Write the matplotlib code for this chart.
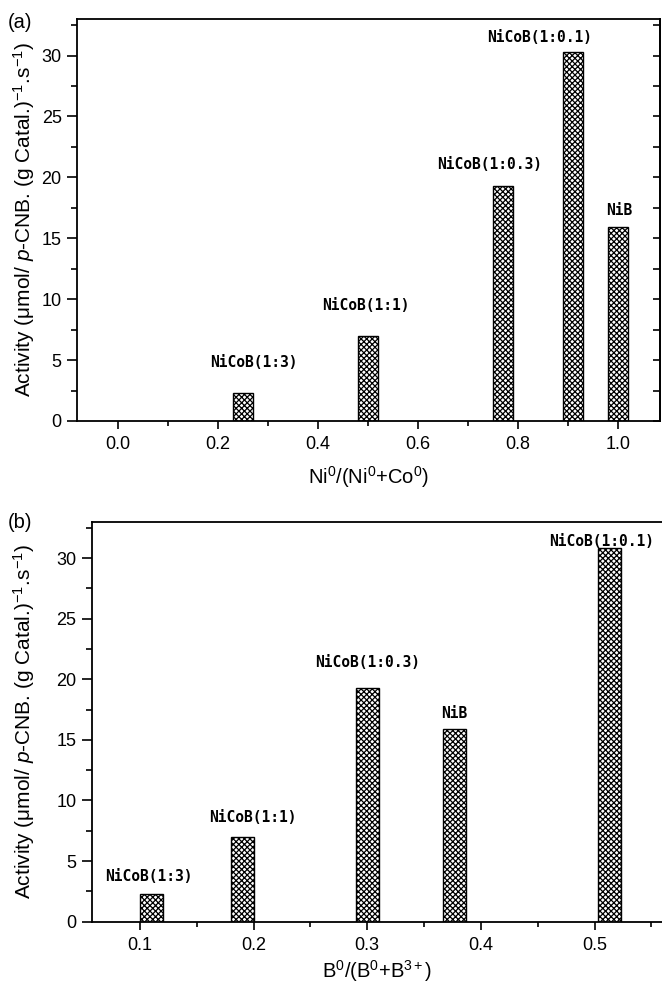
import matplotlib
matplotlib.use("Agg")
import matplotlib.pyplot as plt
from matplotlib.ticker import MultipleLocator, FormatStrFormatter

plt.rcParams['font.family'] = ['Liberation Sans', 'DejaVu Sans']
plt.rcParams['hatch.linewidth'] = 0.9
plt.rcParams['mathtext.fontset'] = 'custom'
plt.rcParams['mathtext.rm'] = 'Liberation Sans'
plt.rcParams['mathtext.it'] = 'Liberation Sans:italic'

# (a) activity vs. Ni0/(Ni0+Co0)
samples_a = ["NiCoB(1:3)", "NiCoB(1:1)", "NiCoB(1:0.3)", "NiCoB(1:0.1)", "NiB"]
ni_ratio = [0.25, 0.50, 0.77, 0.91, 1.00]
activity_a = [2.3, 7.0, 19.3, 30.3, 15.9]

# (b) activity vs. B0/(B0+B3+)
samples_b = ["NiCoB(1:3)", "NiCoB(1:1)", "NiCoB(1:0.3)", "NiB", "NiCoB(1:0.1)"]
b_ratio = [0.11, 0.19, 0.30, 0.377, 0.513]
activity_b = [2.3, 7.0, 19.3, 15.9, 30.8]

# label offsets above each bar (pixels)
offsets_a = [(11, 30), (-2, 30), (-13, 21), (-33, 14), (1, 17)]
offsets_b = [(-2, 17), (11, 19), (0, 25), (0, 15), (-8, 7)]

W, H = 662, 983
fig = plt.figure(figsize=(W / 100, H / 100), dpi=100)

label_font = dict(family=['DejaVu Sans Mono'], fontweight='bold', fontsize=10.5)
ylabel = r"Activity (μmol/ $\it{p}$-CNB. (g Catal.)$^{-1}$.s$^{-1}$)"


def style_axis(ax):
    for s in ax.spines.values():
        s.set_linewidth(1.3)
    ax.tick_params(axis='both', which='both', direction='out', width=1.2,
                   labelsize=13)
    ax.tick_params(axis='y', which='major', length=7, pad=4)
    ax.tick_params(axis='y', which='minor', length=4)
    ax.tick_params(axis='x', which='major', length=6, pad=5)
    ax.tick_params(axis='x', which='minor', length=3.5)
    ax.set_ylim(0, 33)
    ax.yaxis.set_major_locator(MultipleLocator(5))
    ax.yaxis.set_minor_locator(MultipleLocator(2.5))


def draw_bars(ax, names, xs, ys, width, offsets):
    ax.bar(xs, ys, width=width, color='white', edgecolor='black', linewidth=1.0,
           hatch='xxxxxx', zorder=2)
    for name, x, y, (dx, dy) in zip(names, xs, ys, offsets):
        ax.annotate(name, (x, y), xytext=(dx, dy), textcoords='offset pixels',
                    ha='center', va='center', **label_font)


# panel (a)
axa = fig.add_axes([77 / W, 1 - 421 / H, 583 / W, 402 / H])
style_axis(axa)
draw_bars(axa, samples_a, ni_ratio, activity_a, 0.04, offsets_a)
axa.set_xlim(-0.082, 1.084)
axa.xaxis.set_major_locator(MultipleLocator(0.2))
axa.xaxis.set_minor_locator(MultipleLocator(0.1))
axa.xaxis.set_major_formatter(FormatStrFormatter('%.1f'))
axa.set_xlabel(r"Ni$^0$/(Ni$^0$+Co$^0$)", fontsize=14.5, labelpad=8)
axa.set_ylabel(ylabel, fontsize=15)
axa.yaxis.set_label_coords(-40 / 583, 0.5)

# inward ticks along the right frame of panel (a)
right = axa.secondary_yaxis('right')
right.yaxis.set_major_locator(MultipleLocator(5))
right.yaxis.set_minor_locator(MultipleLocator(2.5))
right.tick_params(which='both', direction='in', length=5, width=1.2, labelright=False)
right.spines['right'].set_linewidth(1.3)
fig.text(8 / W, 1 - 22 / H, "(a)", fontsize=14.5, va='center', ha='left')

# panel (b)
axb = fig.add_axes([91.7 / W, 1 - 921.7 / H, (W - 91.7) / W, 400 / H])
style_axis(axb)
draw_bars(axb, samples_b, b_ratio, activity_b, 0.0205, offsets_b)
axb.set_xlim(0.0575, 0.5594)
axb.spines['right'].set_visible(False)
axb.xaxis.set_major_locator(MultipleLocator(0.1))
axb.xaxis.set_minor_locator(MultipleLocator(0.05))
axb.xaxis.set_major_formatter(FormatStrFormatter('%.1f'))
axb.set_xlabel(r"B$^0$/(B$^0$+B$^{3+}$)", fontsize=14.5, labelpad=3)
axb.set_ylabel(ylabel, fontsize=15)
axb.yaxis.set_label_coords(-55 / (W - 91.7), 0.5)
fig.text(8 / W, 1 - 522 / H, "(b)", fontsize=14.5, va='center', ha='left')

fig.savefig("out.png", dpi=100)
